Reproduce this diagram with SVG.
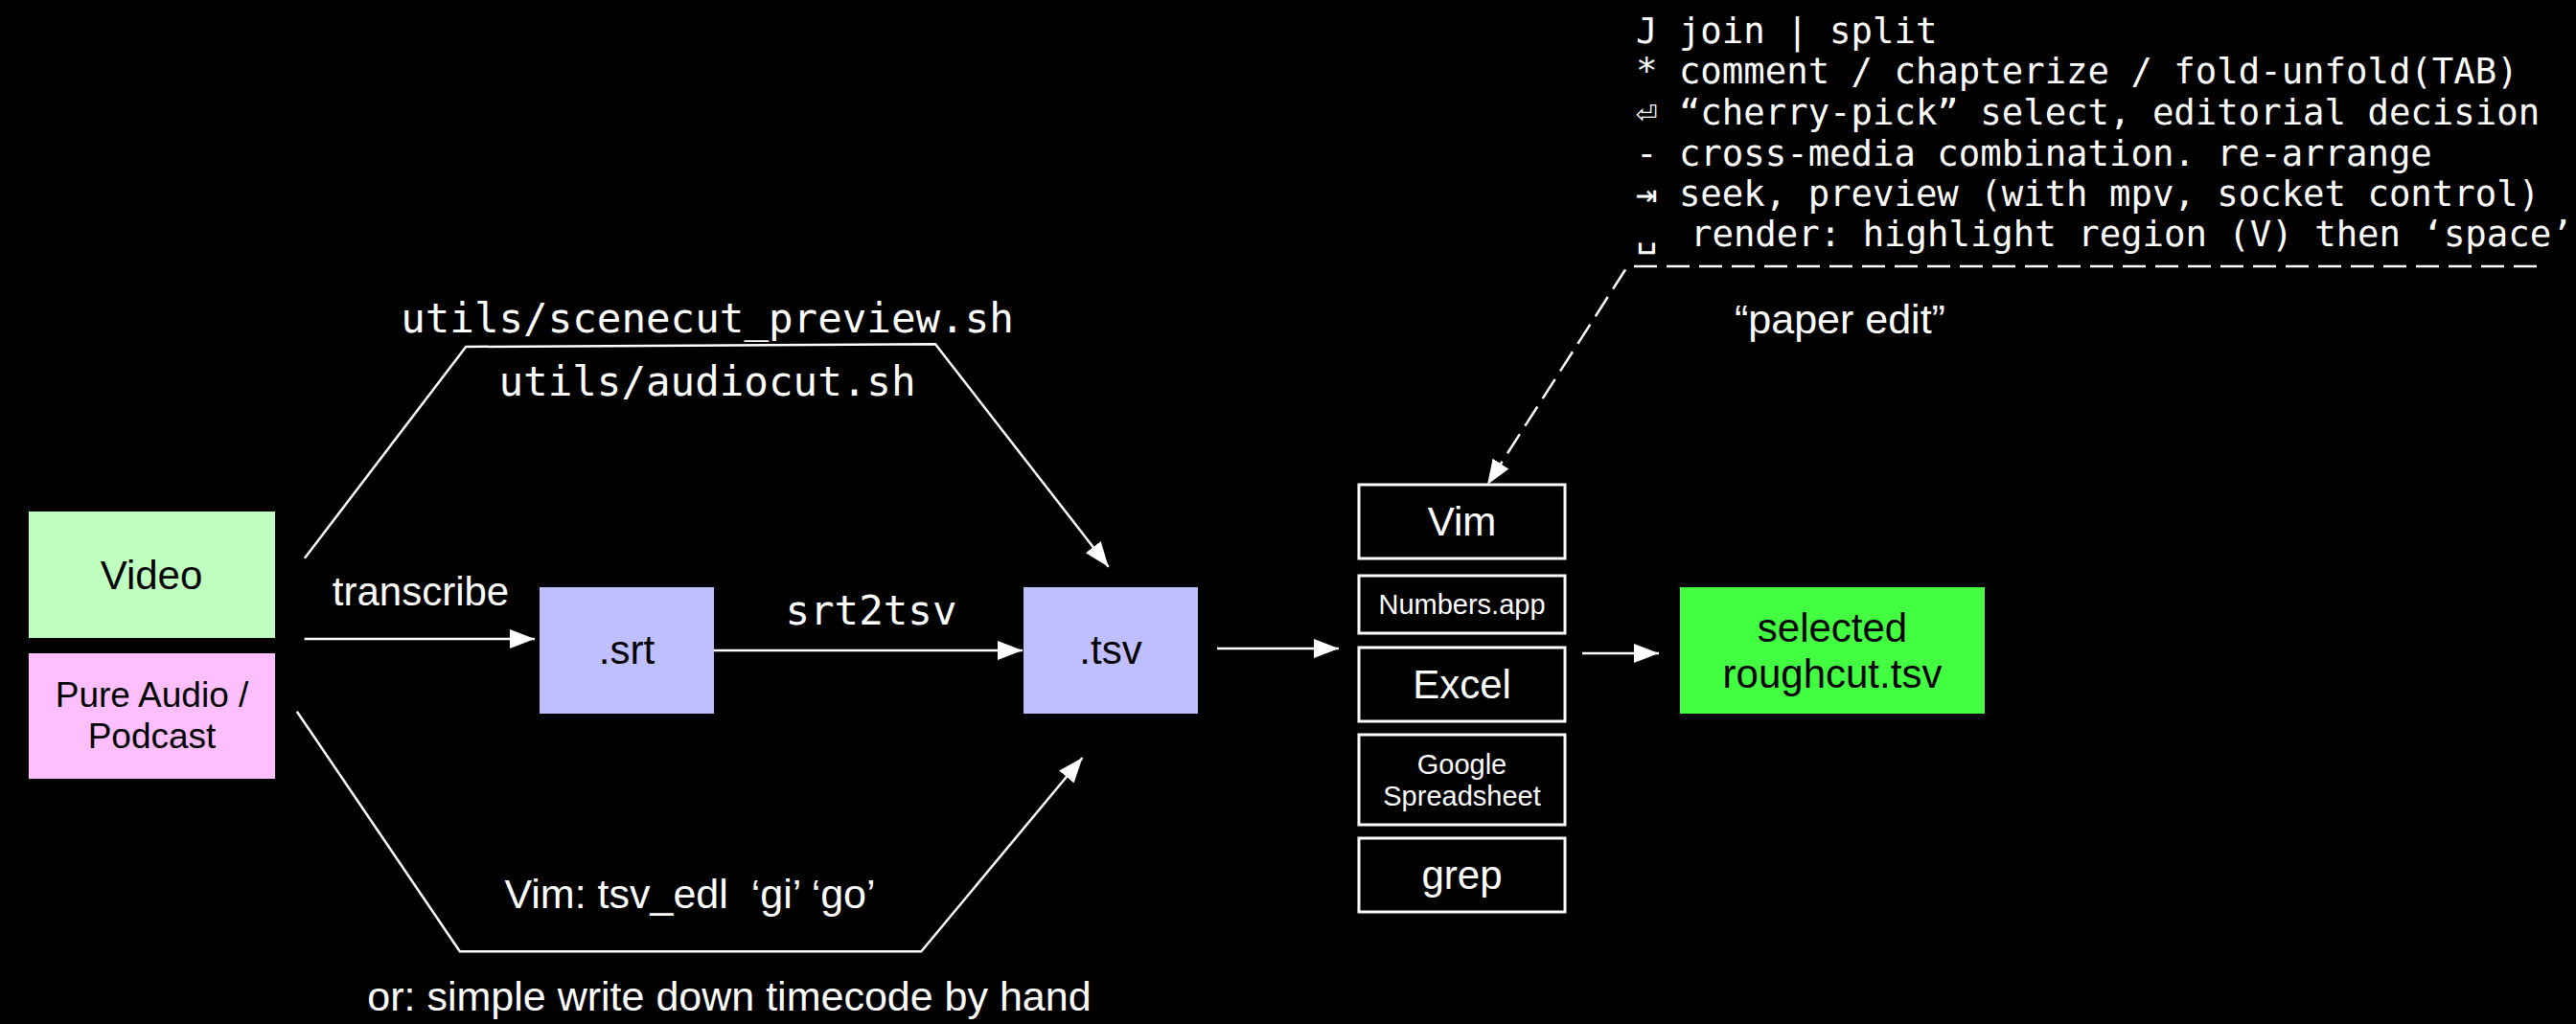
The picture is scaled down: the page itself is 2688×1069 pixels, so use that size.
<svg xmlns="http://www.w3.org/2000/svg" width="2688" height="1069" viewBox="0 0 2688 1069">
<style>
.sans{font-family:"Liberation Sans",Arial,sans-serif;}
.mono{font-family:"DejaVu Sans Mono","Liberation Mono",monospace;}
.wt{fill:#ffffff;}
.bt{fill:#000000;}
.c{text-anchor:middle;}
.ed{fill:#000000;stroke:#ffffff;stroke-width:3;}
.ln{fill:none;stroke:#ffffff;stroke-width:2.5;}
.dl{fill:none;stroke:#ffffff;stroke-width:2.5;stroke-dasharray:24 10;}
</style>
<defs>
<marker id="ah" markerUnits="userSpaceOnUse" markerWidth="28" markerHeight="22" refX="26" refY="10" orient="auto">
<path d="M0,0 L26,10 L0,20 z" fill="#ffffff"/>
</marker>
</defs>
<rect x="0" y="0" width="2688" height="1069" fill="#000000"/>

<g id="help-text" class="mono wt" font-size="37.3">
<text x="1707" y="45">J join | split</text>
<text x="1707" y="87">* comment / chapterize / fold-unfold(TAB)</text>
<text x="1707" y="130">⏎ “cherry-pick” select, editorial decision</text>
<text x="1707" y="173">- cross-media combination. re-arrange</text>
<text x="1707" y="215">⇥ seek, preview (with mpv, socket control)</text>
<text x="1707" y="257">␣<tspan x="1764">render: highlight region (V) then ‘space’</tspan></text>
</g>

<g id="connectors">
<path class="ln" d="M317.6,667 L558,667" marker-end="url(#ah)"/>
<path class="ln" d="M745,679 L1067,679" marker-end="url(#ah)"/>
<path class="ln" d="M1270,677 L1397,677" marker-end="url(#ah)"/>
<path class="ln" d="M1651,682 L1731,682" marker-end="url(#ah)"/>
<path class="ln" stroke-width="2" d="M317.9,582.7 L486.2,362 L976,359.3 L1156.7,591.7" marker-end="url(#ah)"/>
<path class="ln" stroke-width="2" d="M309.8,742.7 L479.8,993.3 L961.3,993.3 L1129.5,791" marker-end="url(#ah)"/>
<path class="dl" d="M2647,278 L1703,278 Q1698,278 1696,281.5 L1552,506" marker-end="url(#ah)"/>
</g>

<g id="edge-labels">
<text class="mono wt c" font-size="42.5" x="738" y="347">utils/scenecut_preview.sh</text>
<text class="mono wt c" font-size="42.5" x="738" y="413">utils/audiocut.sh</text>
<text class="mono wt c" font-size="42.5" x="909" y="652">srt2tsv</text>
<text class="sans wt c" font-size="42" x="439" y="632">transcribe</text>
<text class="sans wt c" font-size="43" x="720" y="948" xml:space="preserve">Vim: tsv_edl  ‘gi’ ‘go’</text>
<text class="sans wt c" font-size="43" x="761" y="1055">or: simple write down timecode by hand</text>
<text class="sans wt c" font-size="43" x="1920" y="348">“paper edit”</text>
</g>

<g id="video">
<rect x="30" y="534" width="257" height="132" fill="#bfffbf"/>
<text class="sans bt c" font-size="42" x="158" y="615">Video</text>
</g>
<g id="audio">
<rect x="30" y="682" width="257" height="131" fill="#ffbfff"/>
<text class="sans bt c" font-size="37" x="158.5" y="738">Pure Audio /</text>
<text class="sans bt c" font-size="37" x="158.5" y="781">Podcast</text>
</g>
<g id="srt">
<rect x="563" y="613" width="182" height="132" fill="#bfbfff"/>
<text class="sans bt c" font-size="42" x="654" y="693">.srt</text>
</g>
<g id="tsv">
<rect x="1068" y="613" width="182" height="132" fill="#bfbfff"/>
<text class="sans bt c" font-size="42" x="1159" y="693">.tsv</text>
</g>
<g id="vim">
<rect class="ed" x="1418" y="506" width="215" height="77"/>
<text class="sans wt c" font-size="42" x="1525.5" y="559">Vim</text>
</g>
<g id="numbers">
<rect class="ed" x="1418" y="601" width="215" height="60"/>
<text class="sans wt c" font-size="29" x="1525.5" y="641">Numbers.app</text>
</g>
<g id="excel">
<rect class="ed" x="1418" y="676" width="215" height="77"/>
<text class="sans wt c" font-size="42" x="1525.5" y="729">Excel</text>
</g>
<g id="google">
<rect class="ed" x="1418" y="767" width="215" height="94"/>
<text class="sans wt c" font-size="29" x="1525.5" y="808">Google</text>
<text class="sans wt c" font-size="29" x="1525.5" y="841">Spreadsheet</text>
</g>
<g id="grep">
<rect class="ed" x="1418" y="875" width="215" height="77"/>
<text class="sans wt c" font-size="42" x="1525.5" y="928">grep</text>
</g>
<g id="selected">
<rect x="1753" y="613" width="318" height="132" fill="#42ff42"/>
<text class="sans bt c" font-size="42" x="1912" y="670">selected</text>
<text class="sans bt c" font-size="42" x="1912" y="718">roughcut.tsv</text>
</g>
</svg>
